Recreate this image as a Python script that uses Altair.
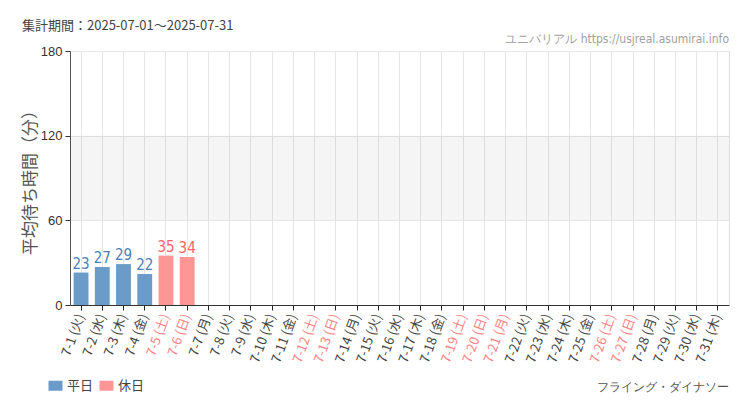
import altair as alt
import pandas as pd

days = ["7-1", "7-2", "7-3", "7-4", "7-5", "7-6", "7-7", "7-8", "7-9", "7-10",
        "7-11", "7-12", "7-13", "7-14", "7-15", "7-16", "7-17", "7-18", "7-19", "7-20",
        "7-21", "7-22", "7-23", "7-24", "7-25", "7-26", "7-27", "7-28", "7-29", "7-30", "7-31"]
dows = ["火", "水", "木", "金", "土", "日", "月", "火", "水", "木",
        "金", "土", "日", "月", "火", "水", "木", "金", "土", "日",
        "月", "火", "水", "木", "金", "土", "日", "月", "火", "水", "木"]
holidays = ["7-5", "7-6", "7-12", "7-13", "7-19", "7-20", "7-21", "7-26", "7-27"]
values = [23, 27, 29, 22, 35, 34] + [None] * 25
band_range = [60, 120]
y_ticks = [0, 60, 120, 180]

labels = [f"{d} ({w})" for d, w in zip(days, dows)]
kinds = ["休日" if d in holidays else "平日" for d in days]
holiday_labels = [l for l, k in zip(labels, kinds) if k == "休日"]

df = pd.DataFrame({"label": labels, "value": values, "kind": kinds})
bars_df = df.dropna(subset=["value"])

W, H = 659, 254
BLUE, RED = "#6b9bc8", "#ff9696"
BLUE_T, RED_T = "#4a7fb8", "#ff6464"
JP = "Noto Sans CJK JP"
COND = "DejaVu Sans Condensed"

x_scale = alt.Scale(domain=labels, paddingInner=0.3, paddingOuter=0.17)
x_enc = alt.X(
    "label:N",
    sort=labels,
    scale=x_scale,
    axis=alt.Axis(
        title=None, labelAngle=-70, labelAlign="right", labelBaseline="middle",
        labelFontSize=13, labelFont=JP, labelPadding=4,
        labelColor=alt.ExprRef(expr="indexof(" + str(holiday_labels) + ", datum.value) >= 0 ? '#ff8282' : '#444'"),
        domainColor="#333", tickColor="#222", tickSize=5,
        grid=True, gridColor="#e6e6e6", bandPosition=0.5,
    ),
)
y_scale = alt.Scale(domain=[0, 180])
y_axis = alt.Axis(
    title="平均待ち時間（分）", titleFontSize=17, titleFont=JP, titleFontWeight="normal",
    titleColor="#555", titlePadding=1,
    values=y_ticks, labelFontSize=13, labelColor="#333", labelFont="Liberation Sans",
    domainColor="#555", tickColor="#333", tickSize=5, labelPadding=3,
    grid=True, gridColor="#e6e6e6",
)

band = alt.Chart(pd.DataFrame({"y": [band_range[0]], "y2": [band_range[1]]})).mark_rect(
    color="#000", opacity=0.04
).encode(
    x=alt.value(0), x2=alt.value(W),
    y=alt.Y("y:Q", scale=y_scale, axis=y_axis),
    y2="y2:Q",
)

bars = alt.Chart(bars_df).mark_bar().encode(
    x=x_enc,
    y=alt.Y("value:Q", scale=y_scale, axis=y_axis),
    color=alt.Color(
        "kind:N",
        scale=alt.Scale(domain=["平日", "休日"], range=[BLUE, RED]),
        legend=alt.Legend(
            title=None, orient="none", legendX=-21, legendY=328, direction="horizontal",
            symbolType="M-1.4,-1L1.4,-1L1.4,1L-1.4,1Z", symbolSize=100,
            symbolStrokeWidth=0, symbolOpacity=1, labelFontSize=13, labelFont=JP,
            labelColor="#444", columnPadding=5, labelOffset=5, labelLimit=100,
        ),
    ),
)

texts = alt.Chart(bars_df).mark_text(
    baseline="bottom", dy=-1, fontSize=15, font=COND
).encode(
    x=alt.X("label:N", sort=labels, scale=x_scale),
    y=alt.Y("value:Q", scale=y_scale),
    text=alt.Text("value:Q"),
    color=alt.condition(alt.datum.kind == "休日", alt.value(RED_T), alt.value(BLUE_T)),
)

title_t = alt.Chart(pd.DataFrame({"t": ["集計期間：2025-07-01～2025-07-31"]})).mark_text(
    align="left", baseline="alphabetic", fontSize=13, font=JP, color="#444"
).encode(x=alt.value(-48), y=alt.value(-21), text="t:N")

wm = alt.Chart(pd.DataFrame({"t": ["ユニバリアル  https://usjreal.asumirai.info"]})).mark_text(
    align="right", baseline="alphabetic", fontSize=12, font=COND, color="#a0a0a0"
).encode(x=alt.value(W), y=alt.value(-8), text="t:N")

attr = alt.Chart(pd.DataFrame({"t": ["フライング・ダイナソー"]})).mark_text(
    align="right", baseline="alphabetic", fontSize=12, font=COND, color="#555"
).encode(x=alt.value(W), y=alt.value(340), text="t:N")

chart = alt.layer(band, bars, texts, title_t, wm, attr).properties(
    width=W, height=H,
    autosize=alt.AutoSizeParams(type="none"),
    padding={"left": 62, "top": 43, "right": 12, "bottom": 90},
).configure_view(stroke=None).configure(background="white")

chart.save("out.html", embed_options={"renderer": "svg", "actions": False})
